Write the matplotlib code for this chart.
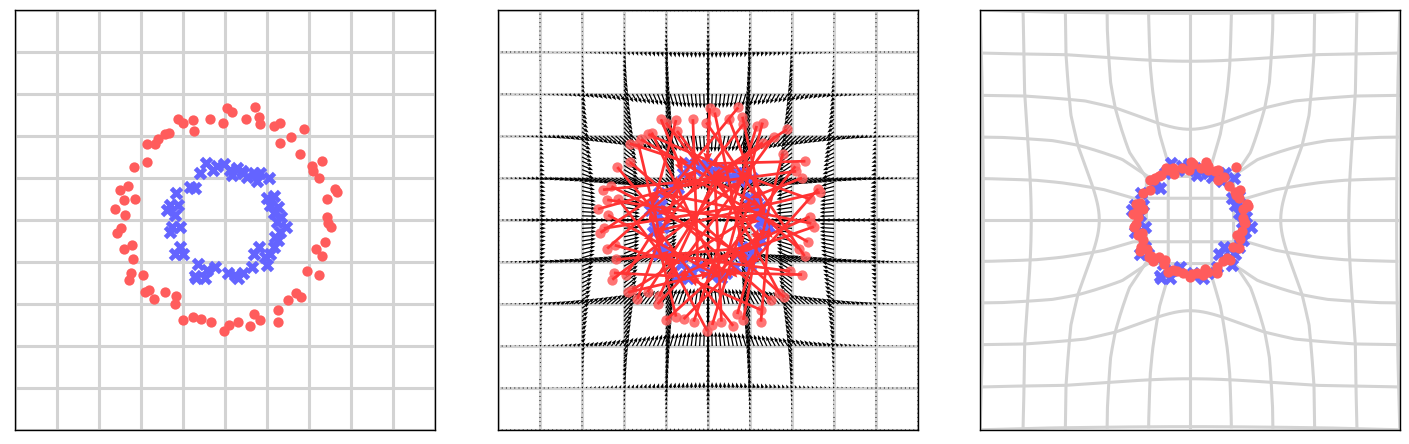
import numpy as np
import matplotlib
matplotlib.use("Agg")
import matplotlib.pyplot as plt

# source samples (outer ring)
red_x = [0.02, 0.08, 0.36, 0.41, 0.42, 0.25, -0.02, -0.18, -0.56, -0.50,
         -0.38, -0.37, -0.67, -0.71, -0.80, -0.83, -0.93, -0.93, -1.08, -1.15,
         -1.25, -1.07, -1.20, -1.31, -1.19, -1.24, -1.28, -1.11, -1.20, -1.09,
         -1.12, -1.14, -0.98, -0.90, -0.95, -0.84, -0.72, -0.58, -0.60, -0.50,
         -0.38, -0.29, -0.17, 0.05, -0.01, 0.16, 0.35, 0.42, 0.30, 0.63,
         0.63, 0.75, 0.85, 0.91, 0.98, 1.12, 1.15, 1.08, 1.19, 1.26,
         1.23, 1.21, 1.21, 1.31, 1.33, 1.12, 1.05, 1.04, 1.16, 0.89,
         0.79, 0.65, 0.94, 0.58, 0.65]
red_y = [1.33, 1.28, 1.34, 1.23, 1.14, 1.20, 1.16, 1.20, 1.20, 1.16,
         1.19, 1.06, 1.04, 1.02, 0.96, 0.91, 0.91, 0.69, 0.63, 0.40,
         0.36, 0.25, 0.24, 0.13, 0.06, -0.10, -0.15, -0.30, -0.34, -0.47,
         -0.63, -0.71, -0.66, -0.83, -0.86, -0.94, -0.86, -0.91, -1.00, -1.19,
         -1.15, -1.18, -1.21, -1.25, -1.32, -1.21, -1.12, -1.19, -1.26, -1.07,
         -1.21, -0.95, -0.87, -0.92, -0.61, -0.65, -0.43, -0.34, -0.26, -0.08,
         -0.04, 0.04, 0.25, 0.37, 0.33, 0.50, 0.58, 0.64, 0.70, 0.79,
         0.99, 0.92, 1.08, 1.12, 1.16]

# target samples (inner ring)
blue_x = [-0.23, -0.01, -0.14, -0.30, 0.14, 0.22, 0.34, 0.42, 0.38, 0.52,
          0.26, 0.08, -0.42, -0.36, -0.58, -0.65, -0.56, -0.69, -0.60, -0.63,
          -0.54, -0.65, -0.54, -0.60, -0.50, -0.32, -0.22, -0.12, -0.34, -0.24,
          0.04, 0.12, 0.22, 0.16, 0.32, 0.50, 0.34, 0.41, 0.54, 0.58,
          0.63, 0.65, 0.73, 0.62, 0.67, 0.58, 0.63, 0.50, 0.58, 0.54,
          -0.36, 0.06, -0.10, 0.20, 0.48, 0.60]
blue_y = [0.68, 0.67, 0.60, 0.56, 0.62, 0.56, 0.56, 0.56, 0.46, 0.50,
          0.51, 0.54, 0.39, 0.38, 0.32, 0.18, 0.18, 0.12, 0.06, -0.08,
          -0.08, -0.14, -0.32, -0.40, -0.40, -0.52, -0.60, -0.56, -0.69, -0.69,
          -0.63, -0.65, -0.63, -0.69, -0.56, -0.54, -0.40, -0.32, -0.40, -0.32,
          -0.24, -0.14, -0.08, -0.02, 0.04, 0.08, 0.16, 0.26, 0.28, 0.18,
          -0.67, 0.60, 0.64, 0.58, -0.44, -0.20]

# which target each source point is coupled to (middle panel red arrows)
pair = [1, 37, 12, 44, 20, 9, 48, 27, 3, 52,
        15, 40, 31, 6, 46, 22, 0, 35, 18, 54,
        10, 28, 43, 5, 33, 49, 14, 25, 2, 39,
        50, 8, 21, 45, 30, 13, 53, 4, 26, 41,
        17, 34, 7, 47, 24, 11, 38, 55, 19, 29,
        42, 16, 51, 36, 23, 32, 9, 44, 3, 27,
        14, 50, 6, 35, 21, 47, 12, 30, 1, 40,
        25, 18, 53, 8, 33]

grid_vals = [-2.5, -2.0, -1.5, -1.0, -0.5, 0.0, 0.5, 1.0, 1.5, 2.0, 2.5]

# velocity field arrow length vs radius (middle panel)
speed_r = [0.0, 0.6, 1.0, 1.3, 1.5, 1.75, 2.0, 2.25, 2.5, 3.0, 3.6]
speed_len = [0.08, 0.15, 0.19, 0.20, 0.17, 0.12, 0.07, 0.04, 0.022, 0.008, 0.003]

# radial transport: radius before -> after
map_r_in = [0.0, 1.39, 1.45, 1.50, 1.60, 1.80, 2.00, 2.20, 2.50, 3.00, 3.60]
map_r_out = [0.0, 0.72, 0.88, 1.08, 1.25, 1.60, 1.89, 2.12, 2.46, 2.97, 3.60]

RED = '#ff5c5c'
BLUE = '#6464ff'
GRID = '#d3d3d3'


def transport(x, y):
    r = np.hypot(x, y)
    s = np.interp(r, map_r_in, map_r_out) / np.maximum(r, 1e-9)
    return x * s, y * s


fig = plt.figure(figsize=(14.09, 4.44), dpi=100)
lefts = [15 / 1409, 498 / 1409, 980 / 1409]
axs = [fig.add_axes([l, 14 / 444, 420 / 1409, 420 / 444]) for l in lefts]
for ax in axs:
    ax.set_xlim(-2.5, 2.5)
    ax.set_ylim(-2.5, 2.5)
    ax.set_xticks([])
    ax.set_yticks([])
    for sp in ax.spines.values():
        sp.set_linewidth(1.0)

rx, ry = np.array(red_x), np.array(red_y)
bx, by = np.array(blue_x), np.array(blue_y)
t = np.linspace(-2.5, 2.5, 301)

# panel 1
ax = axs[0]
for g in grid_vals:
    ax.plot(t, np.full_like(t, g), color=GRID, lw=2.2, zorder=0)
    ax.plot(np.full_like(t, g), t, color=GRID, lw=2.2, zorder=0)
ax.scatter(bx, by, marker='X', s=95, color=BLUE, linewidths=0, zorder=3)
ax.scatter(rx, ry, marker='o', s=55, color=RED, linewidths=0, zorder=3)

# panel 2
ax = axs[1]
for g in grid_vals:
    ax.plot(t, np.full_like(t, g), color=GRID, lw=2.2, zorder=0)
    ax.plot(np.full_like(t, g), t, color=GRID, lw=2.2, zorder=0)
tq = np.linspace(-2.5, 2.5, 101)
qx = np.concatenate([np.concatenate([tq, np.full_like(tq, g)]) for g in grid_vals])
qy = np.concatenate([np.concatenate([np.full_like(tq, g), tq]) for g in grid_vals])
qr = np.hypot(qx, qy)
ql = np.interp(qr, speed_r, speed_len)
qu = -qx / np.maximum(qr, 1e-9) * ql
qv = -qy / np.maximum(qr, 1e-9) * ql
ax.quiver(qx, qy, qu, qv, angles='xy', scale_units='xy', scale=1,
          color='black', width=0.003, headwidth=3, headlength=4,
          headaxislength=3.5, zorder=1)
ax.scatter(bx, by, marker='X', s=95, color=BLUE, linewidths=0, zorder=2)
ax.scatter(rx, ry, marker='o', s=55, color=RED, alpha=0.85, linewidths=0, zorder=3)
tx, ty = bx[pair], by[pair]
ax.quiver(rx, ry, tx - rx, ty - ry, angles='xy', scale_units='xy', scale=1,
          color='#ff3333', width=0.0065, headwidth=3.2, headlength=4,
          headaxislength=3.6, zorder=4)

# panel 3
ax = axs[2]
for g in grid_vals:
    hx, hy = transport(t, np.full_like(t, g))
    ax.plot(hx, hy, color=GRID, lw=2.2, zorder=0)
    vx, vy = transport(np.full_like(t, g), t)
    ax.plot(vx, vy, color=GRID, lw=2.2, zorder=0)
ax.scatter(bx, by, marker='X', s=95, color=BLUE, linewidths=0, zorder=2)
fx, fy = transport(rx, ry)
ax.scatter(fx, fy, marker='o', s=55, color=RED, linewidths=0, zorder=3)

fig.savefig('out.png', dpi=100)
